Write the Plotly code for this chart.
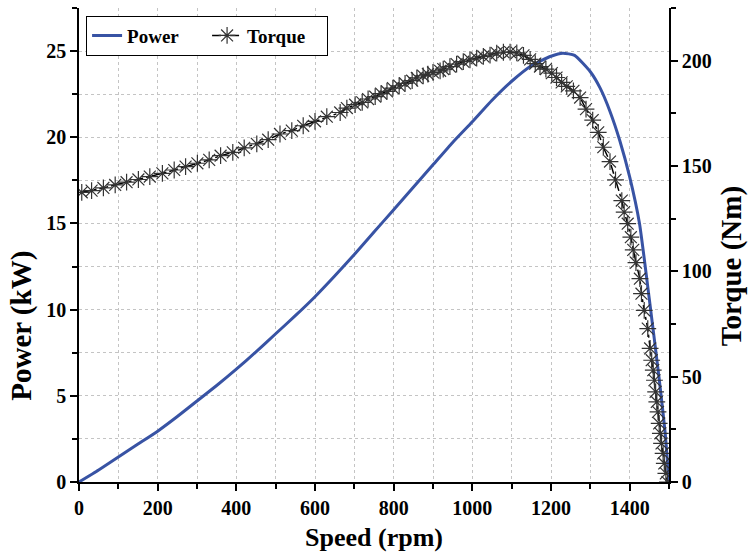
import plotly.graph_objects as go

# Motor output power versus shaft speed
power_speed_rpm = [0, 50, 100, 150, 200, 250, 300, 350, 400, 450, 500, 550, 600,
                   650, 700, 750, 800, 850, 900, 950, 1000, 1050, 1100, 1150,
                   1200, 1230, 1260, 1300, 1325, 1350, 1375, 1400, 1425, 1450,
                   1475, 1490, 1500]
power_kw = [0.0, 0.7, 1.45, 2.2, 2.95, 3.8, 4.7, 5.6, 6.55, 7.55, 8.6, 9.65, 10.75,
            11.95, 13.2, 14.5, 15.8, 17.1, 18.4, 19.7, 20.9, 22.15, 23.25, 24.15,
            24.7, 24.88, 24.75, 23.8, 22.85, 21.5, 19.8, 17.7, 15.0, 10.6,
            6.0, 2.9, 0.0]

# Measured torque samples
torque_speed_rpm = [7, 32, 62, 92, 121, 151, 180, 212, 242, 271, 301, 331, 360,
                    391, 420, 452, 481, 511, 541, 570, 600, 630, 664, 681, 702,
                    720, 735, 753, 768, 783, 798, 814, 829, 847, 859, 875, 887,
                    900, 918, 926, 943, 960, 977, 994, 1011, 1028, 1045, 1062,
                    1079, 1096, 1113, 1130, 1147, 1160, 1172, 1187, 1202, 1214,
                    1227, 1240, 1257, 1274, 1289, 1306, 1320, 1333, 1350, 1364,
                    1380, 1386, 1395, 1403, 1409, 1416, 1426, 1430, 1437, 1446,
                    1452, 1456, 1460, 1463, 1466, 1469, 1472, 1475, 1478, 1481,
                    1485, 1488, 1492, 1496]
torque_nm = [137.5, 138.3, 139.6, 141.0, 142.3, 143.6, 145.0, 146.5, 148.1, 149.7,
             151.3, 152.9, 154.9, 156.5, 158.6, 160.5, 162.5, 165.2, 166.8, 169.1,
             171.2, 173.4, 175.4, 177.5, 179.1, 180.2, 181.8, 182.9, 184.4, 185.4,
             187.0, 188.1, 189.2, 190.5, 191.8, 192.8, 193.6, 194.4, 195.2, 196.0,
             197.2, 198.4, 199.5, 200.4, 201.2, 202.0, 202.6, 203.6, 204.0, 204.1,
             203.7, 202.5, 200.6, 198.6, 197.2, 196.0, 194.1, 192.0, 189.7, 187.8,
             185.7, 182.5, 177.0, 171.8, 166.0, 158.9, 152.1, 143.4, 133.6, 128.1,
             122.6, 116.2, 110.2, 104.1, 96.5, 89.4, 81.5, 72.8, 63.4, 57.8, 53.1,
             48.3, 42.8, 38.0, 33.3, 27.8, 23.1, 18.3, 13.6, 8.8, 4.1, 0.0]

FONT = "Liberation Serif"
GRID = "#c4c4c4"

fig = go.Figure()

fig.add_trace(go.Scatter(
    x=power_speed_rpm, y=power_kw, name="Power", mode="lines",
    line=dict(color="#3853a4", width=3, shape="spline", smoothing=0.5),
    yaxis="y",
))

fig.add_trace(go.Scatter(
    x=torque_speed_rpm, y=torque_nm, name="Torque", mode="lines+markers",
    line=dict(color="black", width=1.5, dash="dashdot"),
    marker=dict(symbol="asterisk-open", size=14, color="#333333",
                line=dict(color="#333333", width=1.2)),
    yaxis="y2",
))

tickfont = dict(family=FONT, size=20, color="black", weight="bold")
titlefont = dict(family=FONT, size=26, color="black", weight="bold")
ytitlefont = dict(family=FONT, size=29, color="black", weight="bold")

fig.update_layout(
    width=750, height=557,
    margin=dict(l=79, r=81, t=8, b=75),
    paper_bgcolor="white", plot_bgcolor="white",
    showlegend=True,
    legend=dict(
        orientation="h", x=0.012, y=0.984, xanchor="left", yanchor="top",
        bgcolor="white", bordercolor="black", borderwidth=1,
        font=dict(family=FONT, size=19, color="black", weight="bold"),
        itemwidth=30, tracegroupgap=0, entrywidth=75,
    ),
    xaxis=dict(
        range=[0, 1500], dtick=200, tick0=0,
        showline=True, linecolor="black", linewidth=1.5,
        ticks="outside", ticklen=7, tickwidth=1.5, tickcolor="black",
        tickfont=tickfont,
        showgrid=True, gridcolor=GRID, griddash="dot", gridwidth=1,
        minor=dict(dtick=100, ticks="outside", ticklen=5, tickwidth=1.5,
                   tickcolor="black", showgrid=True, gridcolor=GRID,
                   griddash="dot", gridwidth=1),
        zeroline=False,
        title=dict(text="Speed (rpm)", font=titlefont, standoff=10),
    ),
    yaxis=dict(
        range=[0, 27.5], dtick=5, tick0=0,
        showline=True, linecolor="black", linewidth=1.5,
        ticks="outside", ticklen=7, tickwidth=1.5, tickcolor="black",
        tickfont=tickfont,
        showgrid=True, gridcolor=GRID, griddash="dot", gridwidth=1,
        minor=dict(dtick=2.5, ticks="outside", ticklen=5, tickwidth=1.5,
                   tickcolor="black", showgrid=True, gridcolor=GRID,
                   griddash="dot", gridwidth=1),
        zeroline=False,
    ),
    yaxis2=dict(
        range=[0, 225], dtick=50, tick0=0, overlaying="y", side="right",
        showline=True, linecolor="black", linewidth=1.5,
        ticks="outside", ticklen=7, tickwidth=1.5, tickcolor="black",
        tickfont=tickfont,
        showgrid=False,
        minor=dict(dtick=25, ticks="outside", ticklen=5, tickwidth=1.5,
                   tickcolor="black", showgrid=False),
        zeroline=False,
    ),
    annotations=[
        dict(text="Power (kW)", textangle=-90, font=ytitlefont, showarrow=False,
             xref="paper", yref="paper", x=-0.098, y=0.33,
             xanchor="center", yanchor="middle"),
        dict(text="Torque (Nm)", textangle=-90, font=ytitlefont, showarrow=False,
             xref="paper", yref="paper", x=1.105, y=0.455,
             xanchor="center", yanchor="middle"),
    ],
)

fig.write_html("out.html")
